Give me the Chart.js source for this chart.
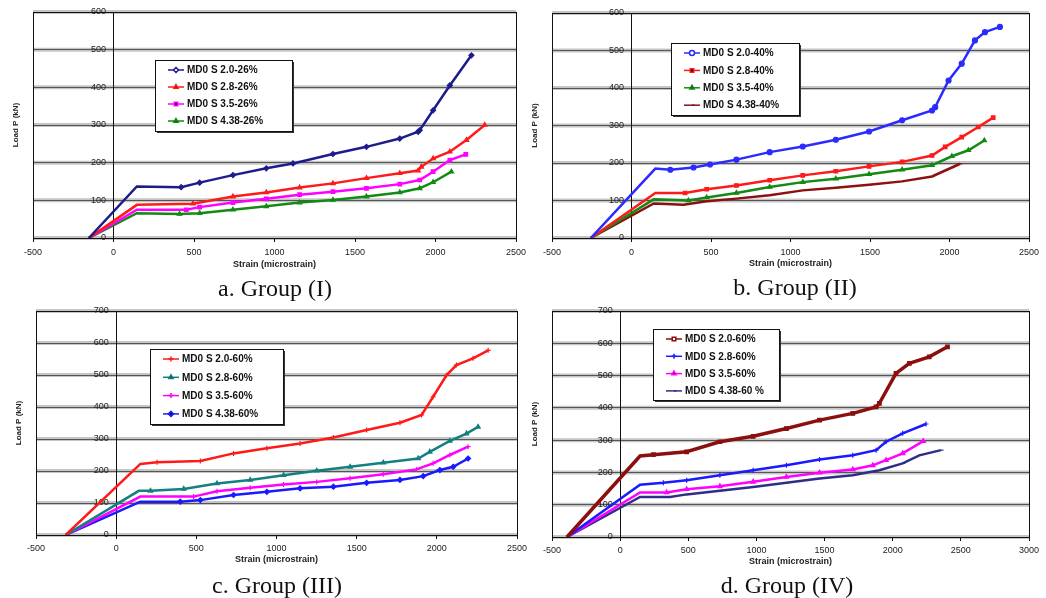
<!DOCTYPE html>
<html>
<head>
<meta charset="utf-8">
<script src="https://cdn.jsdelivr.net/npm/chart.js@4.4.1/dist/chart.umd.min.js"></script>
<style>
  body { margin: 0; background: #fff; width: 1046px; height: 598px; position: relative; overflow: hidden; }
  .panel { position: absolute; }
  .cap { position: absolute; width: 300px; text-align: center; font-family: 'Liberation Serif', 'DejaVu Serif', serif; font-size: 24px; line-height: 26px; color: #111; }
</style>
</head>
<body>
<div class="panel" style="left:0;top:0;width:545px;height:280px"><canvas id="chartA"></canvas></div>
<div class="panel" style="left:520px;top:0;width:526px;height:280px"><canvas id="chartB"></canvas></div>
<div class="panel" style="left:0;top:298px;width:545px;height:278px"><canvas id="chartC"></canvas></div>
<div class="panel" style="left:520px;top:298px;width:526px;height:278px"><canvas id="chartD"></canvas></div>
<div class="cap" id="capA" style="left:125px;top:275px"></div>
<div class="cap" id="capB" style="left:645px;top:274px"></div>
<div class="cap" id="capC" style="left:127px;top:572px"></div>
<div class="cap" id="capD" style="left:637px;top:572px"></div>
<script>
// ---- Group (I): 26% ----
const labelsA = ['MD0 S 2.0-26%', 'MD0 S 2.8-26%', 'MD0 S 3.5-26%', 'MD0 S 4.38-26%'];
const aStrain1 = [-153, 145, 420, 535, 742, 949, 1115, 1363, 1571, 1778, 1892, 1902, 1985, 2089, 2223];
const aLoad1   = [0, 137, 135, 147, 167, 185, 198, 223, 242, 264, 282, 286, 339, 405, 485];
const aStrain2 = [-153, 145, 493, 742, 949, 1156, 1363, 1571, 1778, 1892, 1912, 1985, 2089, 2192, 2306];
const aLoad2   = [0, 88, 91, 110, 121, 134, 145, 159, 172, 179, 189, 211, 229, 260, 300];
const aStrain3 = [-153, 145, 452, 535, 742, 949, 1156, 1363, 1571, 1778, 1902, 1985, 2089, 2188];
const aLoad3   = [0, 75, 75, 82, 94, 104, 115, 123, 132, 143, 154, 176, 207, 222];
const aStrain4 = [-153, 145, 410, 535, 742, 949, 1156, 1363, 1571, 1778, 1902, 1985, 2099];
const aLoad4   = [0, 66, 64, 66, 75, 84, 94, 101, 110, 121, 132, 148, 176];

// ---- Group (II): 40% ----
const labelsB = ['MD0 S 2.0-40%', 'MD0 S 2.8-40%', 'MD0 S 3.5-40%', 'MD0 S 4.38-40%'];
const bStrain1 = [-256, 150, 244, 390, 494, 660, 869, 1077, 1285, 1494, 1702, 1890, 1910, 1994, 2077, 2160, 2223, 2317];
const bLoad1   = [0, 185, 182, 188, 196, 209, 229, 244, 262, 284, 314, 340, 349, 420, 465, 527, 549, 563];
const bStrain2 = [-256, 150, 337, 473, 660, 869, 1077, 1285, 1494, 1702, 1890, 1973, 2077, 2181, 2275];
const bLoad2   = [0, 120, 120, 130, 140, 154, 167, 178, 191, 203, 220, 243, 269, 296, 321];
const bStrain3 = [-256, 140, 358, 473, 660, 869, 1077, 1285, 1494, 1702, 1890, 2015, 2119, 2219];
const bLoad3   = [0, 103, 100, 108, 120, 136, 149, 158, 170, 182, 194, 218, 234, 260];
const bStrain4 = [-256, 140, 327, 473, 660, 869, 1077, 1285, 1494, 1702, 1890, 2015, 2067];
const bLoad4   = [0, 92, 89, 98, 105, 114, 127, 134, 142, 151, 164, 188, 198];

// ---- Group (III): 60% ----
const labelsC = ['MD0 S 2.0-60%', 'MD0 S 2.8-60%', 'MD0 S 3.5-60%', 'MD0 S 4.38-60%'];
const cStrain1 = [-315, 151, 255, 525, 732, 940, 1147, 1355, 1562, 1770, 1905, 1977, 2060, 2122, 2226, 2320];
const cLoad1   = [0, 222, 227, 231, 255, 271, 286, 305, 328, 351, 375, 432, 499, 531, 552, 577];
const cStrain2 = [-315, 141, 214, 421, 629, 836, 1044, 1251, 1459, 1666, 1884, 1956, 2081, 2185, 2257];
const cLoad2   = [0, 138, 138, 144, 161, 172, 187, 201, 213, 226, 239, 260, 294, 317, 338];
const cStrain3 = [-315, 151, 483, 629, 836, 1044, 1251, 1459, 1666, 1873, 1977, 2081, 2195];
const cLoad3   = [0, 120, 120, 137, 148, 158, 166, 177, 190, 205, 224, 250, 276];
const cStrain4 = [-315, 151, 400, 525, 732, 940, 1147, 1355, 1562, 1770, 1915, 2019, 2102, 2195];
const cLoad4   = [0, 104, 104, 109, 125, 135, 146, 151, 163, 172, 184, 203, 213, 239];

// ---- Group (IV): 60% ----
const labelsD = ['MD0 S 2.0-60%', 'MD0 S 2.8-60%', 'MD0 S 3.5-60%', 'MD0 S 4.38-60 %'];
const dStrain1 = [-390, 146, 244, 488, 732, 976, 1220, 1463, 1707, 1878, 1902, 2024, 2122, 2268, 2402];
const dLoad1   = [0, 251, 255, 264, 295, 312, 336, 362, 383, 403, 414, 507, 538, 558, 589];
const dStrain2 = [-390, 146, 317, 488, 732, 976, 1220, 1463, 1707, 1878, 1951, 2073, 2244];
const dLoad2   = [0, 162, 168, 176, 191, 207, 222, 240, 253, 269, 295, 321, 350];
const dStrain3 = [-390, 146, 341, 488, 732, 976, 1220, 1463, 1707, 1854, 1951, 2073, 2224];
const dLoad3   = [0, 138, 138, 148, 157, 171, 186, 199, 209, 222, 238, 259, 297];
const dStrain4 = [-390, 146, 366, 488, 732, 976, 1220, 1463, 1707, 1902, 2073, 2195, 2354];
const dLoad4   = [0, 124, 124, 132, 143, 155, 168, 181, 191, 207, 228, 253, 269];

const captions = ['a. Group (I)', 'b. Group (II)', 'c. Group (III)', 'd. Group (IV)'];
const xTitle = 'Strain (microstrain)';
const yTitle = 'Load P (kN)';

const zip = (xs, ys) => xs.map((x, i) => ({ x: x, y: ys[i] }));
const FONT = "'Liberation Sans', Arial, sans-serif";

// grey halo under each gridline, frame, y title and the boxed legend
const excelLook = {
  id: 'excelLook',
  beforeDraw(chart) {
    const { ctx, chartArea: ca, scales: { y } } = chart;
    ctx.save();
    ctx.strokeStyle = 'rgba(150,150,150,0.55)';
    ctx.lineWidth = 4;
    y.ticks.forEach(t => {
      const py = y.getPixelForValue(t.value);
      ctx.beginPath(); ctx.moveTo(ca.left, py); ctx.lineTo(ca.right, py); ctx.stroke();
    });
    ctx.restore();
  },
  afterDatasetsDraw(chart, args, opts) {
    const { ctx, chartArea: ca } = chart;
    ctx.save();
    ctx.strokeStyle = '#111';
    ctx.lineWidth = 1;
    ctx.strokeRect(Math.round(ca.left) + 0.5, Math.round(ca.top) + 0.5,
      Math.round(ca.right - ca.left), Math.round(ca.bottom - ca.top));

    // rotated y title
    ctx.translate(ca.left - 17, (ca.top + ca.bottom) / 2);
    ctx.rotate(-Math.PI / 2);
    ctx.font = 'bold 8px ' + FONT;
    ctx.fillStyle = '#222';
    ctx.textAlign = 'center';
    ctx.textBaseline = 'middle';
    ctx.fillText(yTitle, 0, 0);
    ctx.setTransform(1, 0, 0, 1, 0, 0);

    // legend box with drop shadow
    const b = opts.box;
    ctx.fillStyle = '#333';
    ctx.fillRect(b.left + 2, b.top + 2, b.w, b.h);
    ctx.fillStyle = '#fff';
    ctx.fillRect(b.left, b.top, b.w, b.h);
    ctx.strokeStyle = '#111';
    ctx.strokeRect(b.left + 0.5, b.top + 0.5, b.w, b.h);
    chart.data.datasets.forEach((ds, i) => {
      const ry = b.top + b.row0 + i * b.gap;
      ctx.strokeStyle = ds.borderColor;
      ctx.lineWidth = 1.5;
      ctx.beginPath(); ctx.moveTo(b.left + 13, ry); ctx.lineTo(b.left + 29, ry); ctx.stroke();
      Chart.helpers.drawPoint(ctx, { pointStyle: ds.pointStyle, radius: 2.5, borderWidth: 1 }, b.left + 21, ry);
      ctx.fillStyle = '#111';
      ctx.font = 'bold 10px ' + FONT;
      ctx.textAlign = 'left';
      ctx.textBaseline = 'middle';
      ctx.fillText(ds.label, b.left + 32, ry + 0.5);
    });
    ctx.restore();
  }
};

function series(label, strain, load, color, style, width) {
  return {
    label: label,
    data: zip(strain, load),
    showLine: true,
    borderColor: color,
    backgroundColor: color,
    borderWidth: width || 2.5,
    pointStyle: style,
    pointRadius: c => (c.dataIndex < 2 ? 0 : 2.5),
    pointBorderWidth: 1.2,
    fill: false
  };
}

function panel(id, cfg) {
  return new Chart(document.getElementById(id), {
    type: 'scatter',
    data: { datasets: cfg.datasets },
    plugins: [excelLook],
    options: {
      responsive: true,
      maintainAspectRatio: false,
      animation: false,
      layout: { padding: cfg.pad },
      scales: {
        x: {
          type: 'linear',
          min: -500,
          max: cfg.xMax,
          grid: { drawOnChartArea: false, drawTicks: true, tickLength: 4, color: '#111' },
          border: { color: '#111' },
          ticks: {
            stepSize: 500, autoSkip: false, maxRotation: 0, padding: cfg.tickPad,
            color: '#222', font: { family: FONT, size: 9 },
            callback: v => String(v)
          },
          title: {
            display: true, text: xTitle, color: '#222',
            font: { family: FONT, size: 9, weight: 'bold' },
            padding: { top: 0, bottom: cfg.titlePad }
          },
          afterFit: s => { s.height = cfg.axisH; }
        },
        y: {
          type: 'linear',
          position: { x: 0 },
          min: 0,
          max: cfg.yMax,
          grid: { color: '#555', lineWidth: 1, drawTicks: false },
          border: { color: '#111' },
          ticks: {
            stepSize: 100, color: '#222', font: { family: FONT, size: 9 },
            callback: v => String(v) + '   '
          }
        }
      },
      plugins: {
        legend: { display: false },
        tooltip: { enabled: false },
        excelLook: { box: cfg.box }
      }
    }
  });
}

panel('chartA', {
  xMax: 2500, yMax: 600, axisH: 40, tickPad: 5.5, titlePad: 8,
  pad: { left: 33, top: 12, right: 29, bottom: 2 },
  box: { left: 155, top: 60, w: 137, h: 71, row0: 10, gap: 17 },
  datasets: [
    series(labelsA[0], aStrain1, aLoad1, '#1c1c8c', 'rectRot'),
    series(labelsA[1], aStrain2, aLoad2, '#ff1a1a', 'triangle'),
    series(labelsA[2], aStrain3, aLoad3, '#ff00ff', 'rect'),
    series(labelsA[3], aStrain4, aLoad4, '#138a13', 'triangle')
  ]
});

panel('chartB', {
  xMax: 2500, yMax: 600, axisH: 40, tickPad: 5.5, titlePad: 8.6,
  pad: { left: 32, top: 13, right: 17, bottom: 2 },
  box: { left: 151, top: 43, w: 128, h: 72, row0: 10, gap: 17.4 },
  datasets: [
    series(labelsB[0], bStrain1, bLoad1, '#2b2bff', 'circle'),
    series(labelsB[1], bStrain2, bLoad2, '#ff1a1a', 'rect'),
    series(labelsB[2], bStrain3, bLoad3, '#138a13', 'triangle'),
    series(labelsB[3], bStrain4, bLoad4, '#8b1010', 'dash')
  ]
});

panel('chartC', {
  xMax: 2500, yMax: 700, axisH: 40, tickPad: 4.5, titlePad: 9.6,
  pad: { left: 36, top: 13, right: 28, bottom: 1 },
  box: { left: 150, top: 51, w: 133, h: 75, row0: 10, gap: 18.3 },
  datasets: [
    series(labelsC[0], cStrain1, cLoad1, '#ff1a1a', 'cross'),
    series(labelsC[1], cStrain2, cLoad2, '#138080', 'triangle'),
    series(labelsC[2], cStrain3, cLoad3, '#ff00ff', 'cross'),
    series(labelsC[3], cStrain4, cLoad4, '#1a1aff', 'rectRot')
  ]
});

panel('chartD', {
  xMax: 3000, yMax: 700, axisH: 39, tickPad: 4.5, titlePad: 8.6,
  pad: { left: 32, top: 13, right: 17, bottom: 0 },
  box: { left: 133, top: 31, w: 126, h: 71, row0: 10, gap: 17.3 },
  datasets: [
    series(labelsD[0], dStrain1, dLoad1, '#8b0f0f', 'rect', 3.5),
    series(labelsD[1], dStrain2, dLoad2, '#1a1aff', 'cross'),
    series(labelsD[2], dStrain3, dLoad3, '#ff00ff', 'triangle'),
    series(labelsD[3], dStrain4, dLoad4, '#2e2e8a', 'dash')
  ]
});

['capA', 'capB', 'capC', 'capD'].forEach((id, i) => {
  document.getElementById(id).textContent = captions[i];
});
</script>
</body>
</html>
